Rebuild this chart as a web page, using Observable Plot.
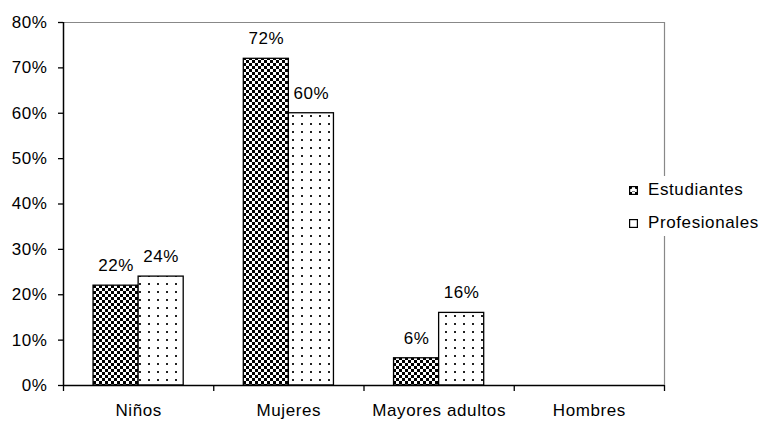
<!DOCTYPE html>
<html>
<head>
<meta charset="utf-8">
<script src="https://cdn.jsdelivr.net/npm/d3@7"></script>
<script src="https://cdn.jsdelivr.net/npm/@observablehq/plot@0.6"></script>
<style>
  html, body { margin: 0; padding: 0; background: #fff; }
  #wrap { position: relative; width: 760px; height: 421px; font-family: "Liberation Sans", Arial, sans-serif; }
  #wrap svg text { letter-spacing: 0.6px; }
  #legend { position: absolute; left: 622px; top: 176px; width: 138px; height: 60px; background: #fff; font-size: 17px; color: #000; letter-spacing: 0.6px; }
  #legend .item { position: absolute; left: 7px; display: flex; align-items: center; }
  #legend svg { margin-right: 10px; }
</style>
</head>
<body>
<div id="wrap"></div>
<script>
const categories = ["Niños", "Mujeres", "Mayores adultos", "Hombres"];
const seriesNames = ["Estudiantes", "Profesionales"];
const estudiantes = [0.22, 0.72, 0.06, null];
const profesionales = [0.24, 0.60, 0.16, null];
const yTicks = [0, 0.1, 0.2, 0.3, 0.4, 0.5, 0.6, 0.7, 0.8];

const pct = d3.format(".0%");
const font = 17;

function rows(values, s) {
  return categories.map((c, i) => ({category: c, index: i, series: seriesNames[s], slot: s, value: values[i]}))
    .filter(d => d.value != null);
}
const rowsE = rows(estudiantes, 0);
const rowsP = rows(profesionales, 1);
const allRows = rowsE.concat(rowsP);

// group occupies the middle 60% of each category band
const x1 = d => d.index + 0.2 + d.slot * 0.3;
const x2 = d => d.index + 0.5 + d.slot * 0.3;
const xm = d => d.index + 0.35 + d.slot * 0.3;

const NS = "http://www.w3.org/2000/svg";
function el(tag, attrs) {
  const e = document.createElementNS(NS, tag);
  for (const k in attrs) e.setAttribute(k, attrs[k]);
  return e;
}
function patternDefs(prefix) {
  const defs = el("defs", {});
  const pc = el("pattern", {id: prefix + "checker", width: 6, height: 6, patternUnits: "userSpaceOnUse"});
  pc.appendChild(el("rect", {width: 6, height: 6, fill: "#fff"}));
  pc.appendChild(el("rect", {x: 0, y: 0, width: 3, height: 3, fill: "#000"}));
  pc.appendChild(el("rect", {x: 3, y: 3, width: 3, height: 3, fill: "#000"}));
  defs.appendChild(pc);
  const pd = el("pattern", {id: prefix + "dots", width: 9, height: 8, patternUnits: "userSpaceOnUse"});
  pd.appendChild(el("rect", {width: 9, height: 8, fill: "#fff"}));
  pd.appendChild(el("rect", {x: 4, y: 3, width: 2, height: 2, fill: "#222"}));
  defs.appendChild(pd);
  return defs;
}

const chart = Plot.plot({
  width: 760,
  height: 421,
  marginLeft: 63,
  marginRight: 96,
  marginTop: 22,
  marginBottom: 36,
  style: {fontFamily: "'Liberation Sans', Arial, sans-serif", fontSize: font + "px", color: "#000", background: "#fff"},
  x: {type: "linear", domain: [0, categories.length], axis: null},
  y: {domain: [0, 0.8], axis: null},
  marks: [
    () => patternDefs("p-"),
    Plot.ruleY([0.8], {stroke: "#888", strokeWidth: 1.2}),
    Plot.ruleX([categories.length], {stroke: "#888", strokeWidth: 1.2}),
    Plot.rectY(rowsE, {x1, x2, y: "value", fill: "url(#p-checker)", stroke: "#000", strokeWidth: 1.3}),
    Plot.rectY(rowsP, {x1, x2, y: "value", fill: "url(#p-dots)", stroke: "#000", strokeWidth: 1.3}),
    Plot.text(allRows, {x: xm, y: "value", text: d => pct(d.value), dy: -20, fontSize: font, fill: "#000"}),
    Plot.axisY({ticks: yTicks, tickFormat: pct, tickSize: 5, tickPadding: 11, strokeWidth: 1.3, label: null, fontSize: font}),
    Plot.axisX({ticks: d3.range(categories.length + 1), tickFormat: () => "", tickSize: 6, strokeWidth: 1.3, label: null}),
    Plot.axisX({ticks: categories.map((c, i) => i + 0.5), tickFormat: v => categories[Math.floor(v)], tickSize: 0, tickPadding: 18, label: null, fontSize: font}),
    Plot.ruleX([0], {stroke: "#000", strokeWidth: 1.5}),
    Plot.ruleY([0], {stroke: "#000", strokeWidth: 1.5})
  ]
});

const wrap = document.getElementById("wrap");
wrap.appendChild(chart);

// legend
const legend = document.createElement("div");
legend.id = "legend";
const legendFills = ["url(#l-checker)", "#fff"];
seriesNames.forEach((name, i) => {
  const item = document.createElement("div");
  item.className = "item";
  item.style.top = (i === 0 ? 4 : 37) + "px";
  const sw = document.createElementNS(NS, "svg");
  sw.setAttribute("width", 9);
  sw.setAttribute("height", 9);
  if (i === 0) sw.appendChild(patternDefs("l-"));
  sw.appendChild(el("rect", {x: 0.6, y: 0.6, width: 7.8, height: 7.8, fill: legendFills[i], stroke: "#000", "stroke-width": 1.2}));
  if (i === 0) sw.appendChild(el("rect", {x: 2.5, y: 2.5, width: 4, height: 3, fill: "#fff"}));
  item.appendChild(sw);
  const t = document.createElement("span");
  t.textContent = name;
  item.appendChild(t);
  legend.appendChild(item);
});
wrap.appendChild(legend);
</script>
</body>
</html>
